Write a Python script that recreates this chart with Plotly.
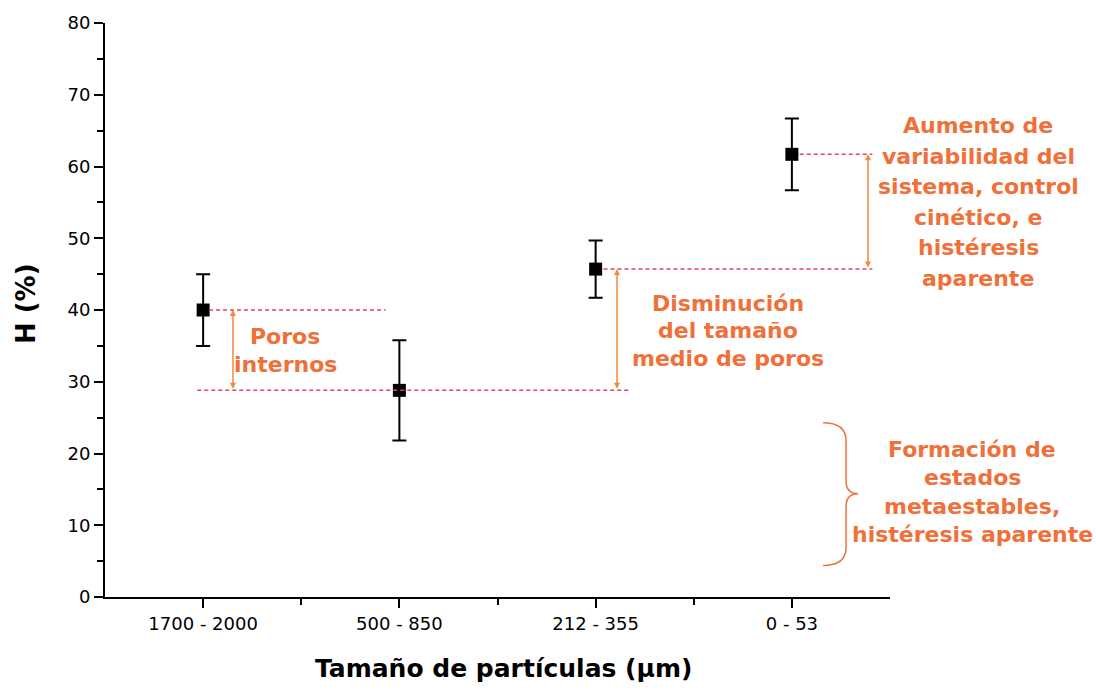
import plotly.graph_objects as go

# Data
categories = ["1700 - 2000", "500 - 850", "212 - 355", "0 - 53"]
h_values = [40.0, 28.8, 45.7, 61.7]
h_errors = [5.0, 7.0, 4.0, 5.0]
y_ticks = [0, 10, 20, 30, 40, 50, 60, 70, 80]

label_poros = ["Poros", "internos"]
label_dism = ["Disminución", "del tamaño", "medio de poros"]
label_aum = ["Aumento de", "variabilidad del", "sistema, control", "cinético, e", "histéresis", "aparente"]
label_form = ["Formación de", "estados", "metaestables,", "histéresis aparente"]

x_pos = [1, 2, 3, 4]

TXT = "#F0703A"
DASH = "#E8435A"
ARROW = "#F4883C"
FONT = "DejaVu Sans, Liberation Sans, Arial, sans-serif"

# plot area in pixels
L, R, T, B = 105, 890, 15, 597

fig = go.Figure()
fig.add_trace(go.Scatter(
    x=x_pos, y=h_values, mode="markers",
    marker=dict(symbol="square", size=13, color="black"),
    error_y=dict(type="data", array=h_errors, visible=True,
                 color="black", thickness=2, width=7),
    showlegend=False, cliponaxis=False,
))

# dashed guide lines
guides = [
    (1.03, 1.93, h_values[0]),
    (0.97, 3.17, h_values[1]),
    (3.04, 4.41, h_values[2]),
    (4.04, 4.41, h_values[3]),
]
for x0, x1, yv in guides:
    fig.add_shape(type="line", x0=x0, x1=x1, y0=yv, y1=yv, xref="x", yref="y",
                  line=dict(color=DASH, width=1.5, dash="4px,3px"))

# double-headed arrows
arrows = [
    (1.152, h_values[1], h_values[0]),
    (3.109, h_values[1], h_values[2]),
    (4.388, h_values[2], h_values[3]),
]
for xa, y0, y1 in arrows:
    fig.add_annotation(x=xa, y=y1, ax=xa, ay=y0, xref="x", yref="y",
                       axref="x", ayref="y", text="", showarrow=True,
                       arrowhead=2, arrowsize=0.8, arrowwidth=1.5,
                       arrowcolor=ARROW, arrowside="end+start",
                       startarrowhead=2, startarrowsize=0.8)

# curly brace
bx0, bx1, bx2 = 4.159, 4.276, 4.337
yt, ym, yb = 24.3, 14.4, 4.4
path = (f"M {bx0},{yt} Q {bx1},{yt} {bx1},{yt-2.5} "
        f"L {bx1},{ym+1.8} Q {bx1},{ym} {bx2},{ym} "
        f"Q {bx1},{ym} {bx1},{ym-1.8} "
        f"L {bx1},{yb+2.5} Q {bx1},{yb} {bx0},{yb}")
fig.add_shape(type="path", path=path, xref="x", yref="y",
              line=dict(color=TXT, width=1.5))


def px(xpx, ypx):
    return (xpx - L) / (R - L), (B - ypx) / (B - T)


def block(lines, xpx, ytop, spacing, size=22):
    for i, t in enumerate(lines):
        x, y = px(xpx, ytop + i * spacing)
        fig.add_annotation(text=t, x=x, y=y,
                           xref="paper", yref="paper", showarrow=False,
                           xanchor="center", yanchor="middle", align="center",
                           font=dict(family=FONT, size=size, color=TXT, weight="bold"))


block(label_poros, 285, 333, 28)
block(label_dism, 728, 299, 28)
block(label_aum, 978, 119, 31)
block(label_form, 972, 447, 29)

# axis titles
tx, ty = px(503, 670)
fig.add_annotation(text="Tamaño de partículas (µm)", x=tx, y=ty, xref="paper", yref="paper",
                   showarrow=False, xanchor="center", yanchor="middle",
                   font=dict(family=FONT, size=25, color="black", weight="bold"))
hx, hy = px(26, 300)
fig.add_annotation(text="H (%)", x=hx, y=hy, xref="paper", yref="paper", textangle=-90,
                   showarrow=False, xanchor="center", yanchor="middle",
                   font=dict(family=FONT, size=26, color="black", weight="bold"))

fig.update_layout(
    width=1096, height=692,
    margin=dict(l=L, r=1096 - R, t=T, b=692 - B),
    paper_bgcolor="white", plot_bgcolor="white",
    font=dict(family=FONT, color="black"),
    showlegend=False,
)
fig.update_xaxes(
    range=[0.5, 4.5], tickvals=x_pos, ticktext=categories,
    showline=True, linecolor="black", linewidth=2, showgrid=False, zeroline=False,
    ticks="outside", ticklen=9, tickwidth=2, tickcolor="black",
    tickfont=dict(size=18, family=FONT),
    minor=dict(tickvals=[1.5, 2.5, 3.5], ticks="outside", ticklen=6, tickwidth=2, tickcolor="black"),
)
fig.update_yaxes(
    range=[0, 80], tickvals=y_ticks,
    showline=True, linecolor="black", linewidth=2, showgrid=False, zeroline=False,
    ticks="outside", ticklen=9, tickwidth=2, tickcolor="black",
    tickfont=dict(size=18, family=FONT),
    minor=dict(tickvals=[5, 15, 25, 35, 45, 55, 65, 75], ticks="outside", ticklen=6, tickwidth=2, tickcolor="black"),
)

fig.write_html("out.html")
